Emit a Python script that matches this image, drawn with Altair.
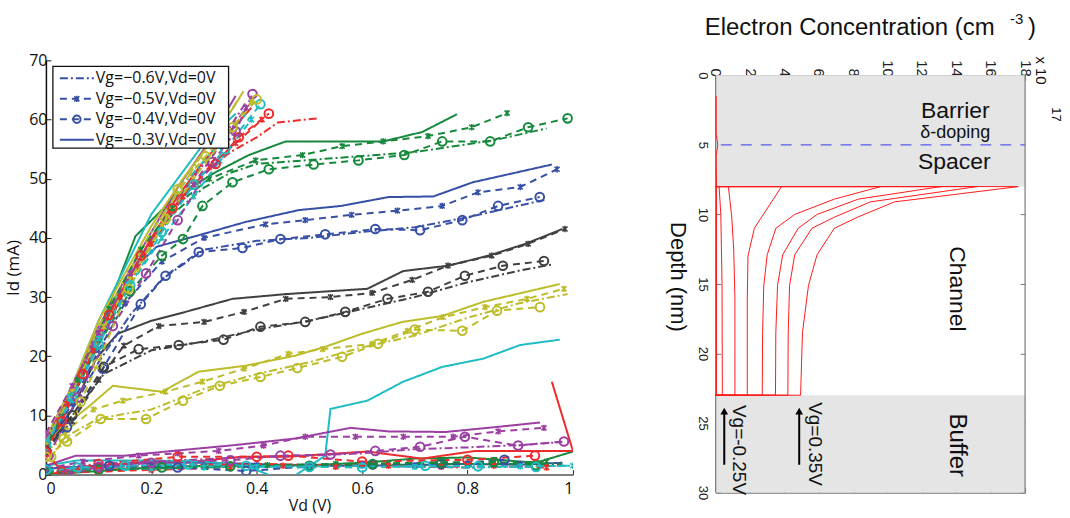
import altair as alt
import pandas as pd

# MATLAB line colours (blue, green, red, cyan, magenta, yellow, black)
C_B = "#3750a5"
C_G = "#17893d"
C_R = "#ee2b2b"
C_C = "#20bcc4"
C_M = "#9c3fa3"
C_Y = "#bdbd2c"
C_K = "#404040"

# ---------------- Id-Vd sweeps ----------------
# solid lines (Vg = -0.3 V)
b_solid_vd = [0, 0.05, 0.1, 0.17, 0.21, 0.284, 0.379, 0.48, 0.56, 0.65, 0.735, 0.81, 0.96]
b_solid_id = [5, 13, 22, 35, 38.5, 40.3, 42.7, 44.7, 45.4, 46.9, 47, 49.4, 52.4]
g_solid_vd = [0, 0.05, 0.1, 0.17, 0.246, 0.322, 0.385, 0.455, 0.64, 0.714, 0.78]
g_solid_id = [5, 14, 24, 40.3, 47, 51.1, 54, 56.3, 56.3, 57.9, 60.9]
k_solid_vd = [0, 0.05, 0.095, 0.136, 0.2, 0.265, 0.354, 0.455, 0.61, 0.678, 0.763, 0.84, 0.91, 0.98]
k_solid_id = [5, 11, 19.6, 23.8, 26, 27.5, 29.7, 30.5, 31.4, 34.4, 35.3, 37, 39, 41.5]
y_solid_vd = [0, 0.03, 0.076, 0.127, 0.22, 0.29, 0.379, 0.473, 0.53, 0.6, 0.676, 0.752, 0.83, 0.975]
y_solid_id = [5, 8, 11.1, 15, 14, 17.4, 18.4, 20.1, 21.6, 23.8, 25.8, 26.8, 29.2, 32.2]
r_solid_hi_vd = [0, 0.05, 0.1, 0.15, 0.2, 0.25, 0.3, 0.35, 0.39]
r_solid_hi_id = [6, 14.5, 24, 32, 40, 47, 53, 58, 62]
c_solid_hi_vd = [0, 0.05, 0.1, 0.15, 0.2, 0.25, 0.3, 0.36]
c_solid_hi_id = [6, 15, 26, 35, 44, 50, 56, 61]
m_solid_hi_vd = [0, 0.05, 0.1, 0.15, 0.2, 0.25, 0.3, 0.36]
m_solid_hi_id = [6, 15, 25, 33, 41, 48.5, 55, 64]
y_solid_hi_vd = [0, 0.05, 0.1, 0.15, 0.2, 0.26, 0.32, 0.375]
y_solid_hi_id = [6, 15, 26, 34, 42, 50, 57, 64.8]
b_solid_lo_vd = [0, 0.1, 0.2, 0.3, 0.4, 0.5, 0.6, 0.7, 0.8, 0.9, 0.98]
b_solid_lo_id = [1, 1.5, 2, 2, 1.8, 1.5, 1.5, 1.6, 1.8, 1.7, 2]
g_solid_lo_vd = [0, 0.1, 0.2, 0.3, 0.4, 0.5, 0.6, 0.7, 0.8, 0.93, 1.0]
g_solid_lo_id = [0, 0.6, 1.2, 1.5, 1.5, 1.6, 2, 2.7, 2.9, 2.0, 3.9]
r_solid_lo_vd = [0, 0.095, 0.19, 0.28, 0.37, 0.455, 0.61, 0.714, 0.815, 1.0, 0.96]
r_solid_lo_id = [0, 1.4, 2.2, 2.2, 3, 3, 3.9, 2.7, 4, 4, 15.7]
c_solid_lo_vd = [0, 0.06, 0.2, 0.3, 0.38, 0.455, 0.53, 0.54, 0.61, 0.678, 0.752, 0.83, 0.9, 0.975]
c_solid_lo_id = [1.5, 2.4, 2.4, 2.2, 1.5, -1.2, 3.2, 11.1, 12.5, 15.7, 18.2, 19.6, 21.9, 22.8]
m_solid_lo_vd = [0, 0.057, 0.15, 0.24, 0.36, 0.473, 0.578, 0.65, 0.758, 0.85, 0.9375]
m_solid_lo_id = [1.5, 3.2, 3.2, 4, 5, 6.1, 7.9, 7.3, 7.2, 8, 8.8]

# dashed lines with star markers (Vg = -0.5 V)
b_x_vd = [0, 0.05, 0.1, 0.15, 0.22, 0.3, 0.417, 0.492, 0.58, 0.667, 0.752, 0.82, 0.9, 0.97]
b_x_id = [5, 12, 21, 29, 36, 40, 42.3, 43, 43.9, 44.6, 45.4, 47.7, 48.6, 51.6]
g_x_vd = [0, 0.06, 0.12, 0.18, 0.24, 0.31, 0.398, 0.487, 0.562, 0.64, 0.725, 0.808, 0.875]
g_x_id = [5, 16, 28, 38, 45, 50, 53.1, 54, 55.5, 56.3, 57.2, 58.7, 61.1]
k_x_vd = [0, 0.05, 0.1, 0.148, 0.214, 0.3, 0.376, 0.455, 0.54, 0.619, 0.695, 0.763, 0.846, 0.915, 0.985]
k_x_id = [4.5, 9, 16, 21.8, 25.1, 25.8, 27.5, 29.7, 30, 30.7, 32.9, 35.3, 37, 39, 41.5]
y_x_vd = [0, 0.04, 0.09, 0.146, 0.227, 0.297, 0.376, 0.46, 0.525, 0.619, 0.686, 0.754, 0.833, 0.913, 0.983]
y_x_id = [4, 7.5, 11, 12.5, 14, 15.7, 17.9, 20.4, 21.2, 22.1, 24.3, 26.6, 28.3, 29.7, 31.4]
r_x_hi_vd = [0, 0.04, 0.09, 0.14, 0.2, 0.26, 0.31, 0.36, 0.41]
r_x_hi_id = [5, 12, 21, 30, 39, 47, 52, 56, 60]
m_x_hi_vd = [0, 0.05, 0.1, 0.16, 0.22, 0.28, 0.34, 0.38]
m_x_hi_id = [7, 15, 24, 34, 42, 49, 57, 62]
c_x_hi_vd = [0, 0.05, 0.1, 0.16, 0.22, 0.28, 0.33, 0.39]
c_x_hi_id = [5.5, 13, 23, 32, 40, 47, 53, 60]
y_x_hi_vd = [0, 0.05, 0.11, 0.16, 0.22, 0.28, 0.34, 0.39]
y_x_hi_id = [5, 14, 25, 33, 42, 50, 57, 63]
m_x_lo_vd = [0, 0.07, 0.176, 0.25, 0.328, 0.413, 0.492, 0.587, 0.678, 0.773, 0.858, 0.945]
m_x_lo_id = [1, 2.2, 3.2, 3.6, 4, 4.9, 6.4, 6.4, 6.4, 6.4, 7.3, 7.9]
r_x_lo_vd = [0, 0.1, 0.2, 0.35, 0.45, 0.55, 0.65, 0.75, 0.85, 0.95]
r_x_lo_id = [0.3, 0.5, 0.8, 1.2, 1.5, 1.3, 1.5, 1.3, 1.5, 1.2]
c_x_lo_vd = [0, 0.1, 0.2, 0.3, 0.4, 0.5, 0.6, 0.7, 0.8, 0.9, 1.0]
c_x_lo_id = [0.5, 1, 1, 1.2, 1.3, 1.2, 1.5, 1.3, 1.5, 1.4, 1.5]
g_x_lo_vd = [0, 0.1, 0.2, 0.3, 0.42, 0.55, 0.65, 0.75, 0.85, 0.95]
g_x_lo_id = [0.2, 0.8, 1.1, 1.3, 1.6, 1.8, 1.9, 2.1, 2.0, 2.2]
b_x_lo_vd = [0, 0.1, 0.2, 0.3, 0.4, 0.5, 0.6, 0.7, 0.8, 0.9]
b_x_lo_id = [0.8, 1.2, 1.5, 1.4, 1.6, 1.5, 1.7, 1.6, 1.9, 1.8]

# dashed lines with circle markers (Vg = -0.4 V)
b_o_vd = [0, 0.04, 0.108, 0.18, 0.227, 0.29, 0.373, 0.445, 0.53, 0.625, 0.71, 0.79, 0.858, 0.937]
b_o_id = [4, 8, 17.9, 28.8, 33.6, 37.6, 38.3, 39.8, 40.6, 41.5, 41.3, 43, 45.4, 46.9]
g_o_vd = [0, 0.05, 0.1, 0.16, 0.22, 0.26, 0.297, 0.354, 0.423, 0.508, 0.593, 0.68, 0.752, 0.843, 0.915, 0.99]
g_o_id = [4, 13, 22, 31, 37, 39.8, 45.4, 49.4, 51.6, 52.4, 53.1, 54, 56.3, 56.3, 58.7, 60.2]
k_o_vd = [0, 0.05, 0.11, 0.176, 0.252, 0.337, 0.407, 0.492, 0.568, 0.648, 0.725, 0.795, 0.867, 0.945]
k_o_id = [4, 10, 18.2, 21.2, 21.9, 22.8, 25, 25.8, 27.5, 29.7, 30.9, 33.6, 35.3, 36.1]
y_o_vd = [0, 0.04, 0.104, 0.19, 0.26, 0.33, 0.407, 0.477, 0.562, 0.63, 0.7, 0.79, 0.856, 0.9375]
y_o_id = [3, 5.6, 9.4, 9.4, 12.5, 15, 16.5, 18, 19.9, 22.1, 24.5, 24.3, 27.7, 28.3]
y_o_hi_vd = [0.01, 0.034, 0.066, 0.098, 0.157, 0.227, 0.25, 0.303, 0.354, 0.4]
y_o_hi_id = [3, 6.1, 12.3, 18.7, 31.4, 43.2, 48.2, 53.8, 58.7, 63.4]
r_o_hi_vd = [0, 0.03, 0.07, 0.12, 0.18, 0.24, 0.28, 0.322, 0.366, 0.423]
r_o_hi_id = [4, 9, 17, 27, 37, 45, 49, 52.5, 57, 61]
m_o_hi_vd = [0.005, 0.06, 0.127, 0.19, 0.25, 0.316, 0.36, 0.392]
m_o_hi_id = [3.2, 13, 25.1, 34, 43, 52.8, 58, 64.3]
c_o_hi_vd = [0, 0.05, 0.1, 0.16, 0.22, 0.28, 0.34, 0.407]
c_o_hi_id = [5, 13, 22, 32, 41, 49, 55, 62.6]
m_o_lo_vd = [0.04, 0.1, 0.2, 0.35, 0.445, 0.54, 0.625, 0.71, 0.795, 0.896, 0.983]
m_o_lo_id = [0, 1.3, 2, 2.4, 3.2, 3.4, 4, 4.7, 6.4, 4.9, 5.6]
r_o_lo_vd = [0, 0.03, 0.1, 0.25, 0.4, 0.46, 0.6, 0.8, 0.928]
r_o_lo_id = [3.8, 0.5, 1.8, 3, 3, 3.2, 2.2, 2.5, 3.2]
c_o_lo_vd = [0, 0.06, 0.15, 0.27, 0.38, 0.5, 0.6, 0.72, 0.82, 0.93]
c_o_lo_id = [0.8, 1.2, 1.5, 1.7, 1.5, 1.3, 1.2, 1.5, 1.4, 1.3]
g_o_lo_vd = [0, 0.1, 0.22, 0.35, 0.5, 0.62, 0.75, 0.85, 0.93]
g_o_lo_id = [0.3, 0.8, 1.2, 1.4, 1.5, 1.8, 2, 2.1, 1.6]
b_o_lo_vd = [0, 0.12, 0.25, 0.38, 0.5, 0.62, 0.75, 0.87]
b_o_lo_id = [1, 1.5, 1.2, 0.6, 1.4, 1.7, 1.8, 2.5]

# dash-dot lines (Vg = -0.6 V)
b_dd_vd = [0, 0.05, 0.1, 0.16, 0.22, 0.3, 0.4, 0.5, 0.6, 0.7, 0.8, 0.9, 0.95]
b_dd_id = [5, 11, 19, 27, 33, 38, 39.5, 40, 41, 41.8, 43.5, 45.5, 46.5]
g_dd_vd = [0, 0.05, 0.1, 0.17, 0.24, 0.3, 0.35, 0.4, 0.55, 0.7, 0.85, 0.95]
g_dd_id = [5, 13, 23, 35, 44, 48.5, 51, 52.5, 53.5, 54.5, 56.5, 58.5]
k_dd_vd = [0, 0.05, 0.11, 0.2, 0.3, 0.4, 0.5, 0.6, 0.7, 0.8, 0.9, 0.96]
k_dd_id = [4.5, 10, 17, 21, 22.5, 24.5, 26, 28, 30, 32.5, 34.5, 35.5]
y_dd_vd = [0, 0.05, 0.1, 0.2, 0.3, 0.4, 0.5, 0.6, 0.7, 0.8, 0.9, 0.99]
y_dd_id = [4, 7, 9.5, 11, 14.5, 17, 19, 21.5, 23.5, 26.5, 29, 30.5]
r_dd_hi_vd = [0, 0.05, 0.1, 0.15, 0.2, 0.25, 0.3, 0.35, 0.4, 0.44, 0.515]
r_dd_hi_id = [6, 14, 23, 31, 39, 46, 51, 54.5, 57, 59.5, 60.2]
c_dd_hi_vd = [0, 0.05, 0.1, 0.15, 0.2, 0.26, 0.32, 0.38]
c_dd_hi_id = [5.5, 14, 24, 33, 41, 49, 55, 61]
m_dd_hi_vd = [0, 0.05, 0.1, 0.15, 0.21, 0.27, 0.33, 0.38]
m_dd_hi_id = [6, 14, 24, 32, 41, 49, 56, 63]
y_dd_hi_vd = [0, 0.05, 0.1, 0.15, 0.2, 0.26, 0.31, 0.37]
y_dd_hi_id = [5.5, 14, 25, 33, 41, 49, 56, 64]
m_dd_lo_vd = [0, 0.1, 0.2, 0.3, 0.4, 0.5, 0.6, 0.7, 0.8, 0.9, 0.98]
m_dd_lo_id = [1, 1.8, 2.2, 2.6, 3, 3.2, 3.6, 4.3, 4.6, 5, 5.5]
r_dd_lo_vd = [0, 0.2, 0.4, 0.6, 0.8, 0.98]
r_dd_lo_id = [0.5, 1.5, 1.8, 1.5, 1.2, 1.5]
c_dd_lo_vd = [0, 0.2, 0.4, 0.6, 0.8, 1.0]
c_dd_lo_id = [1, 1.5, 1.3, 1.5, 1.2, 1.5]
g_dd_lo_vd = [0, 0.2, 0.4, 0.6, 0.8, 0.98]
g_dd_lo_id = [0.5, 1, 1.4, 1.6, 1.8, 1.8]

SERIES = [
    ("b_solid", C_B, "solid", b_solid_vd, b_solid_id),
    ("g_solid", C_G, "solid", g_solid_vd, g_solid_id),
    ("r_solid_hi", C_R, "solid", r_solid_hi_vd, r_solid_hi_id),
    ("c_solid_hi", C_C, "solid", c_solid_hi_vd, c_solid_hi_id),
    ("m_solid_hi", C_M, "solid", m_solid_hi_vd, m_solid_hi_id),
    ("y_solid_hi", C_Y, "solid", y_solid_hi_vd, y_solid_hi_id),
    ("k_solid", C_K, "solid", k_solid_vd, k_solid_id),
    ("b_solid_lo", C_B, "solid", b_solid_lo_vd, b_solid_lo_id),
    ("g_solid_lo", C_G, "solid", g_solid_lo_vd, g_solid_lo_id),
    ("r_solid_lo", C_R, "solid", r_solid_lo_vd, r_solid_lo_id),
    ("c_solid_lo", C_C, "solid", c_solid_lo_vd, c_solid_lo_id),
    ("m_solid_lo", C_M, "solid", m_solid_lo_vd, m_solid_lo_id),
    ("y_solid", C_Y, "solid", y_solid_vd, y_solid_id),
    ("b_x", C_B, "x", b_x_vd, b_x_id),
    ("g_x", C_G, "x", g_x_vd, g_x_id),
    ("r_x_hi", C_R, "x", r_x_hi_vd, r_x_hi_id),
    ("c_x_hi", C_C, "x", c_x_hi_vd, c_x_hi_id),
    ("m_x_hi", C_M, "x", m_x_hi_vd, m_x_hi_id),
    ("y_x_hi", C_Y, "x", y_x_hi_vd, y_x_hi_id),
    ("k_x", C_K, "x", k_x_vd, k_x_id),
    ("b_x_lo", C_B, "x", b_x_lo_vd, b_x_lo_id),
    ("g_x_lo", C_G, "x", g_x_lo_vd, g_x_lo_id),
    ("r_x_lo", C_R, "x", r_x_lo_vd, r_x_lo_id),
    ("c_x_lo", C_C, "x", c_x_lo_vd, c_x_lo_id),
    ("m_x_lo", C_M, "x", m_x_lo_vd, m_x_lo_id),
    ("y_x", C_Y, "x", y_x_vd, y_x_id),
    ("b_o", C_B, "o", b_o_vd, b_o_id),
    ("g_o", C_G, "o", g_o_vd, g_o_id),
    ("r_o_hi", C_R, "o", r_o_hi_vd, r_o_hi_id),
    ("c_o_hi", C_C, "o", c_o_hi_vd, c_o_hi_id),
    ("m_o_hi", C_M, "o", m_o_hi_vd, m_o_hi_id),
    ("y_o_hi", C_Y, "o", y_o_hi_vd, y_o_hi_id),
    ("k_o", C_K, "o", k_o_vd, k_o_id),
    ("b_o_lo", C_B, "o", b_o_lo_vd, b_o_lo_id),
    ("g_o_lo", C_G, "o", g_o_lo_vd, g_o_lo_id),
    ("r_o_lo", C_R, "o", r_o_lo_vd, r_o_lo_id),
    ("c_o_lo", C_C, "o", c_o_lo_vd, c_o_lo_id),
    ("m_o_lo", C_M, "o", m_o_lo_vd, m_o_lo_id),
    ("y_o", C_Y, "o", y_o_vd, y_o_id),
    ("b_dd", C_B, "dd", b_dd_vd, b_dd_id),
    ("g_dd", C_G, "dd", g_dd_vd, g_dd_id),
    ("r_dd_hi", C_R, "dd", r_dd_hi_vd, r_dd_hi_id),
    ("c_dd_hi", C_C, "dd", c_dd_hi_vd, c_dd_hi_id),
    ("m_dd_hi", C_M, "dd", m_dd_hi_vd, m_dd_hi_id),
    ("y_dd_hi", C_Y, "dd", y_dd_hi_vd, y_dd_hi_id),
    ("k_dd", C_K, "dd", k_dd_vd, k_dd_id),
    ("g_dd_lo", C_G, "dd", g_dd_lo_vd, g_dd_lo_id),
    ("r_dd_lo", C_R, "dd", r_dd_lo_vd, r_dd_lo_id),
    ("c_dd_lo", C_C, "dd", c_dd_lo_vd, c_dd_lo_id),
    ("m_dd_lo", C_M, "dd", m_dd_lo_vd, m_dd_lo_id),
    ("y_dd", C_Y, "dd", y_dd_vd, y_dd_id),
]

# ---------------- electron concentration profiles (x 1e17 cm^-3) ----------------
ne0_depth = [1.5, 4.2, 5.0, 5.8, 8.0, 23.0]
ne0_conc = [0.03, 0.03, 0.12, 0.03, 0.05, 0.05]
ne1_depth = [8.0, 8.0, 10.0, 15.0, 23.0, 23.0]
ne1_conc = [0, 0.2, 0.3, 0.37, 0.39, 0]
ne2_depth = [8.0, 8.0, 10.1, 12.5, 16.0, 23.0, 23.0]
ne2_conc = [0, 0.74, 0.93, 1.05, 1.12, 1.12, 0]
ne3_depth = [8.0, 8.0, 11.0, 13.0, 16.0, 23.0, 23.0]
ne3_conc = [0, 3.83, 2.25, 1.88, 1.84, 1.84, 0]
ne4_depth = [8.0, 8.0, 8.9, 10.0, 11.0, 12.9, 15.1, 18.5, 23.0, 23.0]
ne4_conc = [0, 9.6, 6.9, 4.6, 3.5, 3.0, 2.8, 2.73, 2.71, 0]
ne5_depth = [8.0, 8.0, 8.9, 10.0, 11.0, 12.9, 15.1, 18.5, 23.0, 23.0]
ne5_conc = [0, 13.1, 8.3, 5.9, 4.8, 3.9, 3.6, 3.5, 3.48, 0]
ne6_depth = [8.0, 8.0, 9.1, 10.2, 11.0, 12.9, 15.1, 18.5, 23.0, 23.0]
ne6_conc = [0, 15.2, 9.0, 6.9, 5.6, 4.6, 4.3, 4.22, 4.2, 0]
ne7_depth = [8.0, 8.0, 9.1, 10.2, 11.0, 12.9, 15.1, 18.5, 23.0, 23.0]
ne7_conc = [0, 17.6, 10.4, 8.25, 6.9, 5.9, 5.4, 5.05, 4.94, 0]
PROFILES = [(ne0_depth, ne0_conc), (ne1_depth, ne1_conc), (ne2_depth, ne2_conc),
            (ne3_depth, ne3_conc), (ne4_depth, ne4_conc), (ne5_depth, ne5_conc),
            (ne6_depth, ne6_conc), (ne7_depth, ne7_conc)]

# layer stack: barrier+spacer and buffer (depth ranges, nm)
layer_top = [0, 23]
layer_bottom = [8, 30]
delta_doping_depth = 5

# ---------------- build tables ----------------
rows = []
for name, color, style, xs, ys in SERIES:
    for i, (vx, vy) in enumerate(zip(xs, ys)):
        rows.append({"curve": name, "color": color, "style": style, "vd": vx, "id": vy, "seq": i})
iv = pd.DataFrame(rows)

prow = []
for k, (ds, cs) in enumerate(PROFILES):
    for i, (d, c) in enumerate(zip(ds, cs)):
        prow.append({"curve": k, "depth": d, "conc": c, "seq": i})
prof = pd.DataFrame(prow)

one = pd.DataFrame({"k": [0]})

FONT_L = "Open Sans"
FONT_R = "Liberation Sans"
INWARD = alt.ExprRef(expr="-5")

# ---------------- left panel: Id vs Vd ----------------
sx = alt.Scale(domain=[0, 1], nice=False, zero=False)
sy = alt.Scale(domain=[0, 70], nice=False)
X = alt.X("vd:Q", scale=sx, axis=alt.Axis(
    values=[0, 0.2, 0.4, 0.6, 0.8, 1], format="~g", title="Vd (V)", grid=False,
    domainColor="#808080", domainWidth=2, tickColor="#222", tickSize=INWARD,
    labelPadding=11, labelFont=FONT_L, labelFontSize=16, labelColor="#111",
    titleFont=FONT_L, titleFontSize=16, titleFontWeight="normal", titleColor="#111",
    titlePadding=1))
Y = alt.Y("id:Q", scale=sy, axis=alt.Axis(
    values=list(range(0, 71, 10)), title="Id (mA)", grid=False,
    domainColor="#111", domainWidth=1.5, tickColor="#111", tickSize=INWARD,
    labelPadding=4, labelFont=FONT_L, labelFontSize=16, labelColor="#111",
    titleFont=FONT_L, titleFontSize=17, titleFontWeight="normal", titleColor="#111",
    titlePadding=6))

base = alt.Chart(iv).encode(
    x=X, y=Y,
    color=alt.Color("color:N", scale=None),
    detail="curve:N",
    order=alt.Order("seq:Q"),
)
DASH = {"solid": [1, 0], "x": [7, 5], "o": [7, 5], "dd": [8, 3, 2, 3]}
line_layers = [
    base.transform_filter(alt.datum.style == s).mark_line(
        strokeWidth=2, strokeDash=DASH[s], clip=True)
    for s in ["solid", "dd", "x", "o"]
]
STAR = "M-0.8,-0.8L0.8,0.8M-0.8,0.8L0.8,-0.8M0,-1L0,1"
star_pts = alt.Chart(iv).transform_filter(alt.datum.style == "x").mark_point(
    shape=STAR, filled=False, size=40, strokeWidth=1.6, opacity=1, clip=True
).encode(x=X, y=Y, color=alt.Color("color:N", scale=None))
circ_pts = alt.Chart(iv).transform_filter(alt.datum.style == "o").mark_point(
    shape="circle", filled=False, size=75, strokeWidth=2, opacity=1, clip=True
).encode(x=X, y=Y, color=alt.Color("color:N", scale=None))

# legend box drawn inside the axes
legend_layers = [
    alt.Chart(one).mark_rect(fill="white", stroke="#111", strokeWidth=1.3).encode(
        x=alt.value(7), x2=alt.value(183), y=alt.value(6), y2=alt.value(88))
]
LEG = [("Vg=\u22120.6V,Vd=0V", "dd"), ("Vg=\u22120.5V,Vd=0V", "x"),
       ("Vg=\u22120.4V,Vd=0V", "o"), ("Vg=\u22120.3V,Vd=0V", "solid")]
for i, (label, s) in enumerate(LEG):
    yy = 18 + i * 20.5
    legend_layers.append(alt.Chart(one).mark_rule(
        color=C_B, strokeWidth=2, strokeDash=DASH[s]).encode(
        x=alt.value(14), x2=alt.value(48), y=alt.value(yy)))
    if s == "x":
        legend_layers.append(alt.Chart(one).mark_point(
            shape=STAR, filled=False, size=40, strokeWidth=1.6, color=C_B, opacity=1).encode(
            x=alt.value(31), y=alt.value(yy)))
    if s == "o":
        legend_layers.append(alt.Chart(one).mark_point(
            shape="circle", filled=False, size=55, strokeWidth=2, color=C_B, opacity=1).encode(
            x=alt.value(31), y=alt.value(yy)))
    legend_layers.append(alt.Chart(one).mark_text(
        text=label, align="left", baseline="middle", font=FONT_L, fontSize=16, color="#111").encode(
        x=alt.value(50), y=alt.value(yy)))

left = alt.layer(*line_layers, star_pts, circ_pts, *legend_layers).properties(
    width=528, height=415)

# ---------------- right panel: electron concentration vs depth ----------------
# the depth axis starts 15 px below the top of this panel; the strip above depth 0
# holds nothing but the axis labels
TOP_GAP = 15
PX_PER_NM = 418 / 30
D_MIN = -TOP_GAP / PX_PER_NM
FRAME = "#7a7a7a"

scx = alt.Scale(domain=[0, 18], nice=False, zero=False)
scy = alt.Scale(domain=[D_MIN, 30], nice=False, zero=False, reverse=True)
AX_COMMON = dict(grid=False, domainColor=FRAME, domainWidth=1.2, tickColor=FRAME,
                 tickSize=INWARD, labelFont=FONT_R, labelColor="#222")
XT = alt.X("c0:Q", scale=scx, axis=alt.Axis(
    orient="top", values=list(range(0, 19, 2)), labelAngle=90, title=None,
    labelAlign="right", labelBaseline="middle", offset=-TOP_GAP,
    labelPadding=4, labelFontSize=15, **AX_COMMON))
YL = alt.Y("d0:Q", scale=scy, axis=alt.Axis(
    orient="left", values=list(range(0, 31, 5)), labelAngle=90, title="Depth (nm)",
    labelAlign="center", labelBaseline="top", labelFontSize=13, domain=False,
    titleAngle=90, titleBaseline="top", titleFont=FONT_R, titleFontSize=22,
    titleFontWeight="normal", titleColor="#111", labelPadding=12, titlePadding=8,
    **AX_COMMON))

regions = pd.DataFrame({"c0": [0, 0], "c1": [18, 18], "d0": layer_top, "d1": layer_bottom})
bands = alt.Chart(regions).mark_rect(color="#e5e5e5").encode(
    x=XT, x2="c1:Q", y=YL, y2="d1:Q")

XB = alt.X("x:Q", scale=scx, axis=alt.Axis(orient="bottom", values=list(range(0, 19, 2)),
                                           labels=False, title=None, **AX_COMMON))
YR = alt.Y("y:Q", scale=scy, axis=alt.Axis(orient="right", values=list(range(0, 31, 5)),
                                           labels=False, title=None, domain=False,
                                           **AX_COMMON))
doping = alt.Chart(pd.DataFrame({"x": [0.3], "x2": [18], "y": [delta_doping_depth]})).mark_rule(
    color="#5b5bea", strokeWidth=1.2, strokeDash=[11, 9]).encode(x=XB, x2="x2:Q", y=YR)

# left and right edges of the box
sides = alt.Chart(pd.DataFrame({"c": [0, 18], "d": [0, 0], "d2": [30, 30]})).mark_rule(
    color=FRAME, strokeWidth=1.2).encode(
    x=alt.X("c:Q", scale=scx, axis=None), y=alt.Y("d:Q", scale=scy, axis=None), y2="d2:Q")

profiles = alt.Chart(prof).mark_line(color="#ff1a1a", strokeWidth=1).encode(
    x=alt.X("conc:Q", scale=scx, axis=None),
    y=alt.Y("depth:Q", scale=scy, axis=None),
    detail="curve:N",
    order=alt.Order("seq:Q"),
)


def note(text, conc, depth, size, angle=0, align="center", baseline="alphabetic"):
    return alt.Chart(pd.DataFrame({"c": [conc], "d": [depth]})).mark_text(
        text=text, font=FONT_R, fontSize=size, angle=angle, align=align,
        baseline=baseline, color="#111").encode(
        x=alt.X("c:Q", scale=scx, axis=None), y=alt.Y("d:Q", scale=scy, axis=None))


def arrow(conc, d_from, d_to):
    shaft = alt.Chart(pd.DataFrame({"c": [conc], "d": [d_from], "d2": [d_to + 0.5]})).mark_rule(
        color="black", strokeWidth=2).encode(
        x=alt.X("c:Q", scale=scx, axis=None), y=alt.Y("d:Q", scale=scy, axis=None), y2="d2:Q")
    head = alt.Chart(pd.DataFrame({"c": [conc], "d": [d_to + 0.45]})).mark_point(
        shape="triangle-up", filled=True, color="black", size=60, opacity=1).encode(
        x=alt.X("c:Q", scale=scx, axis=None), y=alt.Y("d:Q", scale=scy, axis=None))
    return [shaft, head]


notes = [
    note("Barrier", 13.94, 3.1, 23),
    note("\u03b4-doping", 13.94, 4.5, 18),
    note("Spacer", 13.88, 6.75, 23),
    note("Channel", 14.05, 15.36, 23, angle=90, baseline="middle"),
    note("Buffer", 14.05, 26.6, 24, angle=90, baseline="middle"),
    note("Vg=-0.25V", 1.34, 23.7, 19, angle=90, align="left", baseline="middle"),
    note("Vg=0.35V", 5.75, 23.5, 19, angle=90, align="left", baseline="middle"),
]
arrows = arrow(0.5, 28.0, 23.7) + arrow(4.86, 28.0, 23.7)


def pix_text(text, px, py, size, angle=0, align="left", baseline="alphabetic"):
    return alt.Chart(one).mark_text(
        text=text, font=FONT_R, fontSize=size, angle=angle, align=align,
        baseline=baseline, color="#111").encode(x=alt.value(px), y=alt.value(py))


titles = [
    pix_text("Electron Concentration (cm", -11, -25, 24),
    pix_text("-3", 295, -36, 15),
    pix_text(")", 313, -25, 24),
    pix_text("x 10", 326, -4, 15, angle=90, baseline="middle"),
    pix_text("17", 341, 47, 13, angle=90, baseline="middle"),
]

right = alt.layer(bands, doping, sides, profiles, *notes, *arrows, *titles).resolve_axis(
    x="independent", y="independent").properties(width=310, height=418 + TOP_GAP)

chart = alt.hconcat(left, right, spacing=93).properties(
    padding={"left": 4, "top": 12, "right": 8, "bottom": 6},
    background="white",
).configure_view(stroke=None)

chart.save("out.html", embed_options={"renderer": "svg", "actions": False})
